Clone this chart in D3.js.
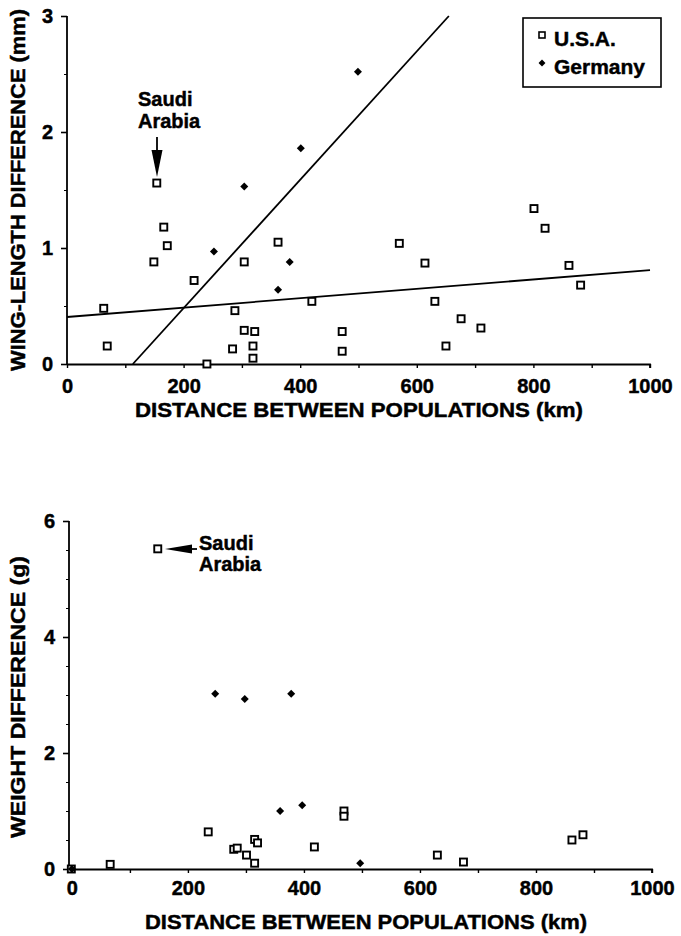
<!DOCTYPE html>
<html>
<head>
<meta charset="utf-8">
<script src="https://cdn.jsdelivr.net/npm/d3@7"></script>
<style>
  body { margin: 0; background: #fff; }
  svg { display: block; font-family: "Liberation Sans", Arial, sans-serif; font-weight: bold; }
  svg text { stroke: #000; stroke-width: 0.45px; }
</style>
</head>
<body>
<div id="chart"></div>
<script>
// wing length panel: [distance km, difference mm]
const wingUSA = [
  [63, 0.48], [69, 0.155], [154, 1.56], [166, 1.18], [172, 1.02], [149, 0.88],
  [218, 0.72], [288, 0.46], [304, 0.88], [304, 0.29], [322, 0.28], [284, 0.13],
  [319, 0.155], [319, 0.05], [240, 0.0], [362, 1.05], [420, 0.54], [472, 0.28],
  [472, 0.11], [570, 1.04], [614, 0.87], [631, 0.54], [676, 0.39], [650, 0.155],
  [710, 0.31], [801, 1.34], [820, 1.17], [861, 0.85], [881, 0.68]
];
const wingGermany = [
  [401, 1.86], [304, 1.53], [499, 2.52], [252, 0.97], [382, 0.88], [362, 0.64]
];
// fitted lines as end points [x0, y0, x1, y1]
const wingFitUSA = [0, 0.405, 1000, 0.81];
const wingFitGermany = [113, 0, 655, 3.0];

// weight panel: [distance km, difference g]
const weightUSA = [
  [-1, 0], [66, 0.08], [148, 5.52], [235, 0.64], [279, 0.34], [285, 0.36],
  [301, 0.24], [315, 0.51], [320, 0.45], [315, 0.1], [418, 0.38], [469, 1.0],
  [469, 0.91], [630, 0.24], [675, 0.12], [862, 0.5], [881, 0.59]
];
const weightGermany = [
  [0, 0], [247, 3.02], [298, 2.93], [378, 3.02], [359, 1.0], [397, 1.1], [497, 0.1]
];

const xTicks = d3.range(0, 1001, 100);
const wingTicks = [0, 1, 2, 3];
const weightTicks = [0, 2, 4, 6];
const legendLabels = ["U.S.A.", "Germany"];

const width = 681, height = 936;
const svg = d3.select("#chart").append("svg")
  .attr("width", width).attr("height", height);

const fs = 20;

// square and diamond markers
function drawPoints(g, x, y, usa, ger) {
  g.append("g").selectAll("rect").data(usa).join("rect")
    .attr("x", d => x(d[0]) - 3.5).attr("y", d => y(d[1]) - 3.5)
    .attr("width", 7).attr("height", 7)
    .attr("fill", "#fff").attr("stroke", "#000").attr("stroke-width", 1.9);
  g.append("g").selectAll("path").data(ger).join("path")
    .attr("d", d3.symbol(d3.symbolSquare, 32))
    .attr("transform", d => `translate(${x(d[0])},${y(d[1])}) rotate(45)`)
    .attr("fill", "#000");
}

function drawAxes(x, y, yMajor, yStep, xPad, yTitle, yTitleLen, yTitleY, xTitleY, xTitleX, xTitleLen, axisX) {
  const y0 = y.range()[0];
  const xAxis = svg.append("g")
    .attr("transform", `translate(0,${y0})`)
    .call(d3.axisBottom(x).tickValues(xTicks).tickSize(4).tickPadding(xPad)
      .tickFormat(d => d % 200 === 0 ? d : ""));
  xAxis.select(".domain").attr("d", `M${axisX},0.5H${x.range()[1]}V4`).attr("stroke-width", 1.8);
  xAxis.selectAll("line").attr("stroke-width", 1.4);
  xAxis.selectAll("text").attr("font-size", 20).attr("font-family", "Liberation Sans").attr("font-weight", "bold");

  const minor = d3.range(y.domain()[0], y.domain()[1] + 0.001, yStep);
  svg.append("g").attr("transform", `translate(${axisX},0)`)
    .call(d3.axisLeft(y).tickValues(minor).tickSize(3).tickFormat(""))
    .select(".domain").remove();
  const yAxis = svg.append("g").attr("transform", `translate(${axisX},0)`)
    .call(d3.axisLeft(y).tickValues(yMajor).tickSize(6).tickPadding(8).tickFormat(d3.format("d")));
  yAxis.select(".domain").attr("d", `M0,${y.range()[0]}V${y.range()[1]}`).attr("stroke-width", 1.8);
  yAxis.selectAll("line").attr("stroke-width", 1.6);
  yAxis.selectAll("text").attr("font-size", 20).attr("font-family", "Liberation Sans").attr("font-weight", "bold");

  svg.append("text")
    .attr("transform", `translate(25,${yTitleY}) rotate(-90)`)
    .attr("text-anchor", "middle").attr("font-size", 21)
    .attr("textLength", yTitleLen).attr("lengthAdjust", "spacingAndGlyphs")
    .text(yTitle);
  svg.append("text")
    .attr("x", xTitleX).attr("y", xTitleY)
    .attr("text-anchor", "middle").attr("font-size", 20)
    .attr("textLength", xTitleLen).attr("lengthAdjust", "spacingAndGlyphs")
    .text("DISTANCE BETWEEN POPULATIONS (km)");
}

// ---------- top panel ----------
const x1 = d3.scaleLinear().domain([0, 1000]).range([67, 650]);
const y1 = d3.scaleLinear().domain([0, 3]).range([364, 16]);

drawAxes(x1, y1, wingTicks, 0.5, 11, "WING-LENGTH DIFFERENCE (mm)", 362, 190, 417, 359, 448, 67);

const topG = svg.append("g");
[wingFitUSA, wingFitGermany].forEach(f => {
  topG.append("line")
    .attr("x1", x1(f[0])).attr("y1", y1(f[1]))
    .attr("x2", x1(f[2])).attr("y2", y1(f[3]))
    .attr("stroke", "#000").attr("stroke-width", 1.8);
});
drawPoints(topG, x1, y1, wingUSA, wingGermany);

// Saudi Arabia note (top)
topG.append("text").attr("x", 138).attr("y", 106).attr("font-size", fs).text("Saudi");
topG.append("text").attr("x", 138).attr("y", 128).attr("font-size", fs).text("Arabia");
topG.append("line").attr("x1", 157).attr("y1", 137).attr("x2", 157).attr("y2", 152)
  .attr("stroke", "#000").attr("stroke-width", 1.8);
topG.append("path").attr("d", "M151.5,150 L162.5,150 L157,177 Z").attr("fill", "#000");

// legend
const leg = svg.append("g");
leg.append("rect").attr("x", 523).attr("y", 18).attr("width", 138).attr("height", 69)
  .attr("fill", "#fff").attr("stroke", "#000").attr("stroke-width", 1.6);
leg.append("rect").attr("x", 539).attr("y", 32).attr("width", 6).attr("height", 6)
  .attr("fill", "#fff").attr("stroke", "#000").attr("stroke-width", 1.6);
leg.append("path").attr("d", d3.symbol(d3.symbolSquare, 24))
  .attr("transform", "translate(542,63) rotate(45)").attr("fill", "#000");
leg.selectAll("text.lab").data(legendLabels).join("text")
  .attr("class", "lab")
  .attr("x", 554).attr("y", (d, i) => 46 + i * 28)
  .attr("font-size", 21).text(d => d);

// ---------- bottom panel ----------
const x2 = d3.scaleLinear().domain([-5, 1000]).range([69, 652]);
const y2 = d3.scaleLinear().domain([0, 6]).range([869, 521]);

drawAxes(x2, y2, weightTicks, 0.5, 8, "WEIGHT DIFFERENCE (g)", 282, 697, 929, 366, 442, 69);

const botG = svg.append("g");
drawPoints(botG, x2, y2, weightUSA, weightGermany);

botG.append("text").attr("x", 199).attr("y", 550).attr("font-size", fs).text("Saudi");
botG.append("text").attr("x", 199).attr("y", 571).attr("font-size", fs).text("Arabia");
botG.append("line").attr("x1", 185).attr("y1", 549).attr("x2", 197).attr("y2", 549)
  .attr("stroke", "#000").attr("stroke-width", 1.8);
botG.append("path").attr("d", "M165,549 L192,544.5 L192,553.5 Z").attr("fill", "#000");
</script>
</body>
</html>
